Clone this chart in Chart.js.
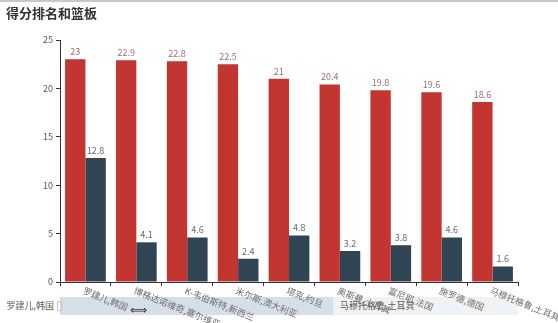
<!DOCTYPE html>
<html>
<head>
<meta charset="utf-8">
<script src="https://cdn.jsdelivr.net/npm/chart.js@4/dist/chart.umd.min.js"></script>
<style>
  html, body { margin: 0; padding: 0; background: #fff; }
  body { width: 558px; height: 323px; overflow: hidden; }
  canvas { display: block; }
</style>
</head>
<body>
<canvas id="grafico" width="558" height="323"></canvas>
<script>
// datos
const jugadores = ["罗建儿,韩国", "博格达诺维奇,塞尔维亚", "K-韦伯斯特,新西兰", "米尔斯,澳大利亚", "塔克,约旦",
                   "奥斯曼,土耳其", "富尼耶,法国", "施罗德,德国", "马穆托格鲁,土耳其"];
const puntos = [23, 22.9, 22.8, 22.5, 21, 20.4, 19.8, 19.6, 18.6];
const rebotes = [12.8, 4.1, 4.6, 2.4, 4.8, 3.2, 3.8, 4.6, 1.6];
const ticksY = [0, 5, 10, 15, 20, 25];
const titulo = "得分排名和篮板";

const fuente = '"Microsoft YaHei", "Noto Sans CJK SC", sans-serif';

// etiquetas encima de las barras, nombres girados y el dataZoom de abajo
const pluginExtras = {
    id: 'extras',
    afterDatasetsDraw(chart) {
        const ctx = chart.ctx;
        ctx.save();
        ctx.font = '9px ' + fuente;
        ctx.textAlign = 'center';
        ctx.textBaseline = 'bottom';
        const colores = ['#a86a6e', '#6a6a6a'];
        chart.data.datasets.forEach(function(ds, i) {
            chart.getDatasetMeta(i).data.forEach(function(bar, j) {
                ctx.fillStyle = colores[i];
                ctx.fillText(ds.data[j], bar.x, bar.y - 3);
            });
        });
        ctx.restore();
    },
    afterDraw(chart) {
        const ctx = chart.ctx;
        const x = chart.scales.x;
        const area = chart.chartArea;
        ctx.save();

        // linea gris de arriba
        ctx.fillStyle = '#c8c8c8';
        ctx.fillRect(0, 0, chart.width, 2);

        // titulo
        ctx.font = 'bold 13px ' + fuente;
        ctx.fillStyle = '#333';
        ctx.textAlign = 'left';
        ctx.textBaseline = 'middle';
        ctx.fillText(titulo, 6, 13);

        // dataZoom
        ctx.font = '9px ' + fuente;
        const zx0 = area.left, zx1 = area.right, zy = 297, zh = 18;
        ctx.fillStyle = '#f0f3f6';
        ctx.fillRect(zx0, zy, zx1 - zx0, zh);
        ctx.fillStyle = '#d6dee7';
        ctx.fillRect(zx0, zy, 273, zh);
        ctx.strokeStyle = '#bfc8d2';
        ctx.lineWidth = 1;
        ctx.strokeRect(zx0 - 2.5, zy + 4.5, 4, 9);
        ctx.fillStyle = '#555';
        ctx.textAlign = 'right';
        ctx.fillText(jugadores[0], zx0 - 6, zy + 9);
        ctx.textAlign = 'left';
        ctx.fillText(jugadores[jugadores.length - 1], zx0 + 280, zy + 9);
        ctx.font = '12px ' + fuente;
        ctx.fillStyle = '#333';
        ctx.textAlign = 'center';
        ctx.fillText('⟺', 138, zy + 12);

        // nombres del eje x girados
        ctx.font = '9px ' + fuente;
        ctx.fillStyle = '#6e6e6e';
        ctx.textAlign = 'left';
        ctx.textBaseline = 'middle';
        jugadores.forEach(function(nombre, i) {
            const px = x.getPixelForValue(i);
            ctx.save();
            ctx.translate(px - 2, area.bottom + 8);
            ctx.rotate(22 * Math.PI / 180);
            ctx.fillText(nombre, 0, 0);
            ctx.restore();
        });
        ctx.restore();
    }
};

const ctx = document.getElementById('grafico').getContext('2d');
const chart = new Chart(ctx, {
    type: 'bar',
    data: {
        labels: jugadores,
        datasets: [
            {
                label: '得分',
                data: puntos,
                backgroundColor: '#c23531',
                categoryPercentage: 0.8,
                barPercentage: 1.0
            },
            {
                label: '篮板',
                data: rebotes,
                backgroundColor: '#2f4554',
                categoryPercentage: 0.8,
                barPercentage: 1.0
            }
        ]
    },
    options: {
        responsive: false,
        animation: false,
        layout: {
            padding: { top: 40, right: 40, bottom: 37, left: 0 }
        },
        plugins: {
            legend: { display: false },
            tooltip: { enabled: false }
        },
        scales: {
            x: {
                offset: true,
                grid: {
                    offset: true,
                    drawOnChartArea: false,
                    drawTicks: true,
                    tickLength: 4,
                    color: '#333'
                },
                border: { color: '#333' },
                ticks: { display: false }
            },
            y: {
                min: 0,
                max: 25,
                afterBuildTicks: function(scale) {
                    scale.ticks = ticksY.map(function(v) { return { value: v }; });
                },
                grid: {
                    drawOnChartArea: false,
                    drawTicks: true,
                    tickLength: 4,
                    color: '#333'
                },
                border: { color: '#333' },
                ticks: {
                    color: '#555',
                    font: { size: 9, family: fuente },
                    padding: 3
                },
                afterFit: function(scale) { scale.width = 60; }
            }
        }
    },
    plugins: [pluginExtras]
});
</script>
</body>
</html>
